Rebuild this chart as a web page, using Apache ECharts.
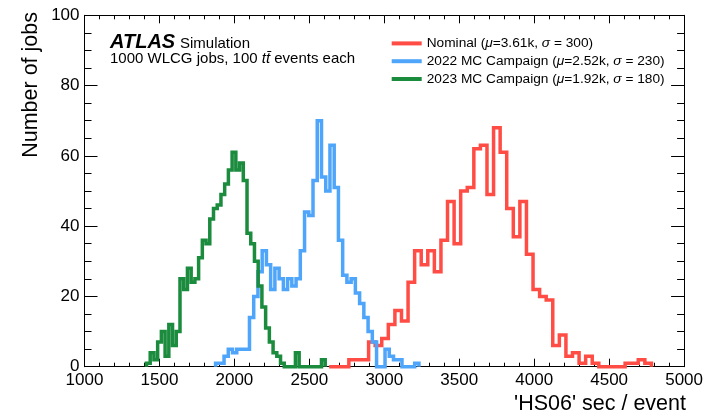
<!DOCTYPE html>
<html>
<head>
<meta charset="utf-8">
<script src="https://cdn.jsdelivr.net/npm/echarts@6/dist/echarts.min.js"></script>
<style>
  html, body { margin: 0; padding: 0; background: #fff; }
  #chart { width: 706px; height: 416px; }
</style>
</head>
<body>
<div id="chart"></div>
<script>
// CPU cost per event of 1000 WLCG jobs, histogrammed per campaign.
const FONT = 'Liberation Sans';

const legendNames = ['Nominal', '2022 MC Campaign', '2023 MC Campaign'];
const meanLabels  = ['3.61k', '2.52k', '1.92k'];
const sigmaLabels = ['300', '230', '180'];
const lineColors  = ['#ff4d45', '#4ea5f9', '#1b8b3d'];

const xTickValues = [1000, 1500, 2000, 2500, 3000, 3500, 4000, 4500, 5000];
const yTickValues = [0, 20, 40, 60, 80, 100];

// Binning of each histogram: low edge of the first bin and bin width ('HS06' sec / event)
const binLow   = [2632, 1874.5, 1413.5];
const binWidth = [43.88, 28.26, 24.84];

// Jobs per bin
const nominalCounts = [0, 0, 0, 2, 2, 2, 7, 6, 8, 12, 16, 13, 24, 33, 29, 33, 27, 36, 47, 35,
  50, 51, 62, 63, 49, 68, 61, 45, 37, 47, 32, 22, 20, 19, 6, 9, 3, 4, 1, 3, 1, 0, 0, 0, 0, 1, 1, 2, 1];
const mc2022Counts = [1, 1, 3, 5, 4, 5, 5, 5, 14, 20, 27, 33, 29, 22, 28, 25, 22, 25, 23, 25,
  33, 44, 43, 53, 70, 54, 50, 63, 51, 36, 26, 24, 25, 21, 18, 14, 10, 7, 0, 0, 5, 3, 2, 2, 0, 0, 0, 1];
const mc2023Counts = [1, 4, 2, 7, 10, 3, 12, 6, 10, 25, 22, 28, 24, 25, 31, 36, 35, 42, 45, 46,
  49, 52, 56, 61, 56, 58, 53, 38, 35, 30, 23, 17, 11, 7, 4, 3, 1, 0, 0, 0, 4, 0, 0, 0, 0, 0, 0, 2];

const allCounts = [nominalCounts, mc2022Counts, mc2023Counts];

// Outline of a histogram as step points: rise at the first edge, drop at the last edge.
function histOutline(low, width, counts) {
  const pts = [[low, 0]];
  counts.forEach((c, i) => pts.push([low + i * width, c]));
  pts.push([low + counts.length * width, 0]);
  return pts;
}

const chart = echarts.init(document.getElementById('chart'), null, { renderer: 'canvas' });

const xMin = xTickValues[0], xMax = xTickValues[xTickValues.length - 1];
const yMin = yTickValues[0], yMax = yTickValues[yTickValues.length - 1];
const plainNumber = v => String(v);

function xAxisCfg(pos, labels) {
  return {
    type: 'value', position: pos, min: xMin, max: xMax, interval: xTickValues[1] - xTickValues[0],
    axisLine: { show: true, onZero: false, lineStyle: { color: '#000', width: 1 } },
    axisTick: { show: true, inside: true, length: 8, lineStyle: { color: '#000', width: 1 } },
    minorTick: { show: true, splitNumber: 5, length: 4, lineStyle: { color: '#000', width: 1 } },
    splitLine: { show: false }, minorSplitLine: { show: false },
    axisLabel: { show: labels, color: '#000', fontFamily: FONT, fontSize: 17, margin: 5, formatter: plainNumber }
  };
}
function yAxisCfg(pos, labels) {
  return {
    type: 'value', position: pos, min: yMin, max: yMax, interval: yTickValues[1] - yTickValues[0],
    axisLine: { show: true, onZero: false, lineStyle: { color: '#000', width: 1 } },
    axisTick: { show: true, inside: true, length: 13, lineStyle: { color: '#000', width: 1 } },
    minorTick: { show: true, splitNumber: 4, length: 7, lineStyle: { color: '#000', width: 1 } },
    splitLine: { show: false }, minorSplitLine: { show: false },
    axisLabel: { show: labels, color: '#000', fontFamily: FONT, fontSize: 17, margin: 5, formatter: plainNumber }
  };
}

const series = legendNames.map((name, k) => ({
  name: name,
  type: 'line',
  step: 'end',
  xAxisIndex: 0,
  yAxisIndex: 0,
  data: histOutline(binLow[k], binWidth[k], allCounts[k]),
  symbol: 'none',
  showSymbol: false,
  clip: false,
  silent: true,
  lineStyle: { color: lineColors[k], width: 3.5, join: 'miter', cap: 'butt' },
  itemStyle: { color: lineColors[k] },
  z: 3 + k
}));

chart.setOption({
  animation: false,
  backgroundColor: '#fff',
  grid: { left: 84.5, right: 20, top: 15.3, bottom: 49.3 },
  xAxis: [xAxisCfg('bottom', true), xAxisCfg('top', false)],
  yAxis: [yAxisCfg('left', true), yAxisCfg('right', false)],
  legend: {
    data: legendNames,
    orient: 'vertical',
    left: 386.7,
    top: 29.5,
    itemWidth: 30,
    itemHeight: 4,
    itemGap: 0,
    icon: 'rect',
    selectedMode: false,
    formatter: function (name) {
      const i = legendNames.indexOf(name);
      return name + ' ({g|\u03bc}=' + meanLabels[i] + ', {g|\u03c3} = ' + sigmaLabels[i] + ')';
    },
    textStyle: {
      color: '#000', fontFamily: FONT, fontSize: 13.7, lineHeight: 17.8,
      rich: { g: { fontStyle: 'italic', fontFamily: FONT, fontSize: 13.7, lineHeight: 17.8, color: '#000' } }
    }
  },
  graphic: [
    { type: 'text', x: 110, y: 42.2, silent: true,
      style: { text: 'ATLAS', fontFamily: FONT, fontSize: 20, fontWeight: 'bold', fontStyle: 'italic',
               fill: '#000', align: 'left', verticalAlign: 'middle' } },
    { type: 'text', x: 180, y: 43.6, silent: true,
      style: { text: 'Simulation', fontFamily: FONT, fontSize: 15, fill: '#000', align: 'left', verticalAlign: 'middle' } },
    { type: 'text', x: 110, y: 58.8, silent: true,
      style: { text: '1000 WLCG jobs, 100 {t|tt\u0304} events each', fontFamily: FONT, fontSize: 15, fill: '#000',
               align: 'left', verticalAlign: 'middle',
               rich: { t: { fontStyle: 'italic', fontFamily: FONT, fontSize: 15, fill: '#000' } } } },
    { type: 'text', x: 686, y: 404, silent: true,
      style: { text: "'HS06' sec / event", fontFamily: FONT, fontSize: 21.5, fill: '#000',
               align: 'right', verticalAlign: 'middle' } },
    { type: 'text', x: 31, y: 12, rotation: Math.PI / 2, silent: true,
      style: { text: 'Number of jobs', fontFamily: FONT, fontSize: 21.5, fill: '#000',
               align: 'right', verticalAlign: 'middle' } }
  ],
  series: series
});
</script>
</body>
</html>
